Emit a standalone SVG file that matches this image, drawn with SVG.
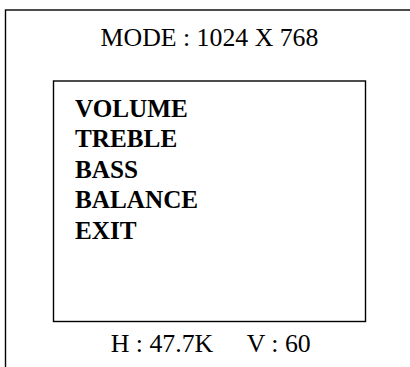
<svg xmlns="http://www.w3.org/2000/svg" width="410" height="367" viewBox="0 0 410 367">
<style>
.frame{fill:none;stroke:#000;stroke-width:1.4}
.t{font-family:"Liberation Serif","Times New Roman",serif;font-size:25.8px;fill:#000}
.b{font-family:"Liberation Serif","Times New Roman",serif;font-size:25.2px;font-weight:bold;fill:#000}
</style>
<rect width="410" height="367" fill="#fff"/>
<g id="screen">
<rect class="frame" x="5.5" y="10" width="420" height="380"/>
<text class="t" x="209.5" y="46" text-anchor="middle">MODE : 1024 X 768</text>
</g>
<g id="menu">
<rect class="frame" x="53.5" y="81" width="312" height="240.5"/>
<text class="b" x="75" y="116.7">VOLUME</text>
<text class="b" x="75" y="147.2">TREBLE</text>
<text class="b" x="75" y="177.7">BASS</text>
<text class="b" x="75" y="208.3">BALANCE</text>
<text class="b" x="75" y="239">EXIT</text>
</g>
<g id="status">
<text class="t" x="110.7" y="352.3">H : 47.7K</text>
<text class="t" x="246.7" y="352.3">V : 60</text>
</g>
<g id="connectors"></g>
</svg>
